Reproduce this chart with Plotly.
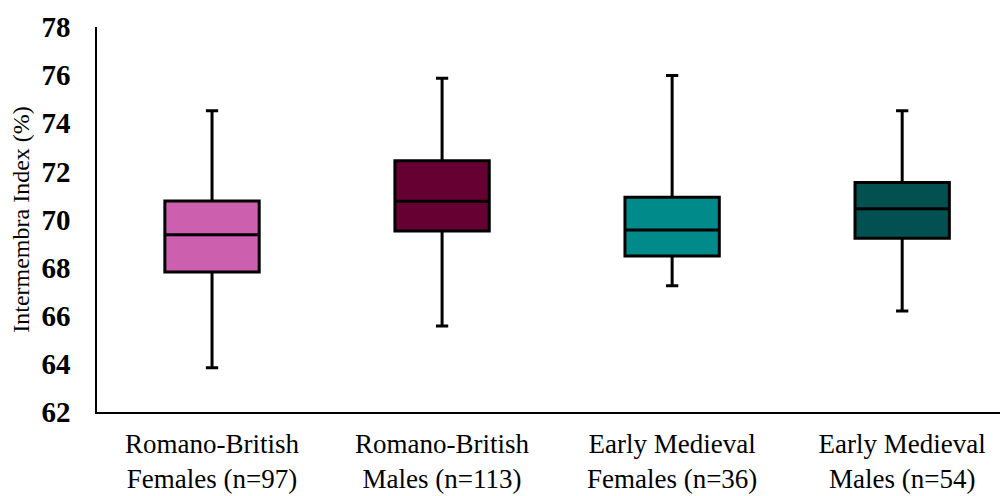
import plotly.graph_objects as go

categories = ["Romano-British<br>Females (n=97)", "Romano-British<br>Males (n=113)",
              "Early Medieval<br>Females (n=36)", "Early Medieval<br>Males (n=54)"]
lower = [63.84, 65.57, 67.25, 66.20]
q1 = [67.82, 69.52, 68.48, 69.22]
median = [69.37, 70.76, 69.56, 70.45]
q3 = [70.77, 72.44, 70.92, 71.54]
upper = [74.52, 75.87, 75.98, 74.52]
colors = ["#CD5FAF", "#660033", "#008B8B", "#025050"]
yticks = [62, 64, 66, 68, 70, 72, 74, 76, 78]

fig = go.Figure()
for i, c in enumerate(categories):
    fig.add_trace(go.Box(
        x=[i], q1=[q1[i]], median=[median[i]], q3=[q3[i]],
        lowerfence=[lower[i]], upperfence=[upper[i]],
        fillcolor=colors[i], line=dict(color="black", width=3),
        width=0.41, whiskerwidth=0.13, boxpoints=False, name=c,
        hoverinfo="skip"))

fig.update_layout(
    width=1000, height=488,
    margin=dict(l=89, r=0, t=19, b=84),
    plot_bgcolor="white", paper_bgcolor="white",
    showlegend=False,
    font=dict(family="Liberation Serif", color="black"),
)
fig.update_xaxes(
    range=[-0.5, 3.46], tickvals=list(range(4)), ticktext=categories,
    showline=True, linecolor="black", linewidth=1.5, showgrid=False, zeroline=False,
    ticks="outside", ticklen=7, tickcolor="rgba(0,0,0,0)",
    tickfont=dict(size=27, family="Liberation Serif", color="black"),
    automargin=False,
)
fig.update_yaxes(
    range=[62, 78], tickvals=yticks, ticktext=[str(v) for v in yticks],
    showline=True, linecolor="black", linewidth=1.5, showgrid=False, zeroline=False,
    ticks="outside", ticklen=19, tickcolor="rgba(0,0,0,0)",
    tickfont=dict(size=29, family="Liberation Serif", color="black", weight="bold"),
    title=dict(text="Intermembra Index (%)", font=dict(size=24, family="Liberation Serif", color="black"), standoff=10),
    automargin=False,
)
fig.write_html("out.html")
